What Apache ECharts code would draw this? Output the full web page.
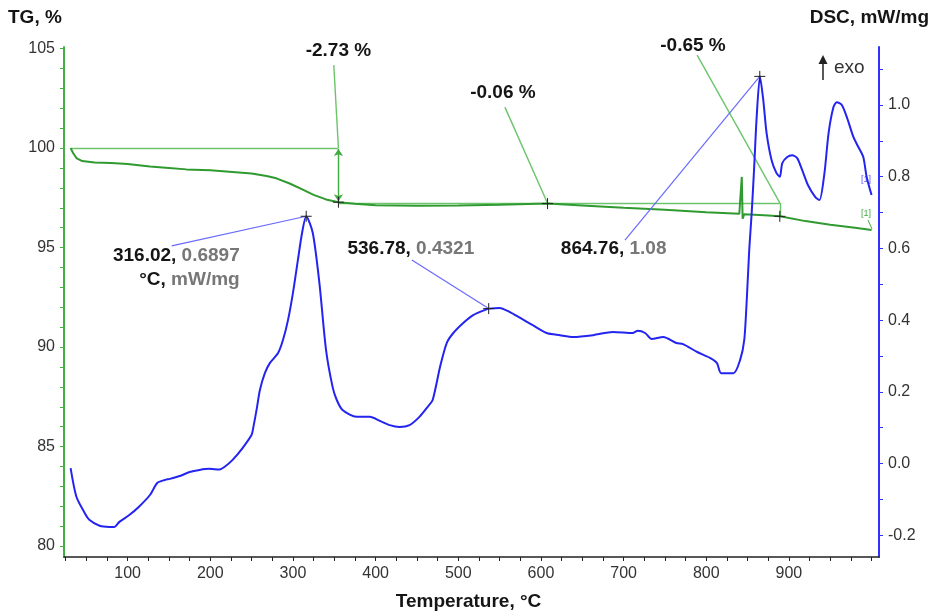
<!DOCTYPE html>
<html><head><meta charset="utf-8">
<script src="https://cdn.jsdelivr.net/npm/echarts@6/dist/echarts.min.js"></script>
<style>html,body{margin:0;padding:0;background:#fff}#c{width:937px;height:616px}</style>
</head><body><div id="c"></div>
<script>
// ---- data ----
const temperatureTG = [31,34,38,45,60,80,100,127,150,171,200,227,250,268,280,296,310,325,340,355,375,400,450,500,550,608,650,700,750,800,840,842,843,844,846,870,889,920,950,980,1000];
const tgValues      = [100,99.75,99.5,99.35,99.28,99.25,99.2,99.07,99.0,98.93,98.88,98.8,98.72,98.6,98.48,98.22,97.95,97.65,97.42,97.28,97.2,97.13,97.1,97.12,97.15,97.21,97.12,97.0,96.9,96.78,96.7,96.7,98.55,96.45,96.68,96.62,96.57,96.33,96.15,96.0,95.88];

const temperatureDSC = [31,38,48,54,66,78,84,90,102,114,127,136,145,151,163,175,187,199,211,217,227,239,250,252,256,260,266,272,282,288,294,300,306,311,316,324,332,340,348,353,360,377,393,405,417,429,441,453,463,469,478,486,494,506,518,534,537,550,562,575,590,607,623,639,663,687,711,717,726,734,748,764,772,789,805,813,818,833,841,846,849,852,855,858,861,865,869,873,879,885,889,892,898,904,910,916,923,932,937,943,948,954,958,964,970,978,984,990,994,1000];
const dscValues      = [-0.013,-0.093,-0.138,-0.158,-0.174,-0.177,-0.177,-0.163,-0.144,-0.12,-0.088,-0.054,-0.046,-0.043,-0.035,-0.024,-0.018,-0.015,-0.017,-0.01,0.01,0.043,0.08,0.1,0.15,0.205,0.252,0.28,0.308,0.345,0.40,0.476,0.568,0.643,0.69,0.643,0.503,0.317,0.213,0.177,0.149,0.13,0.13,0.119,0.107,0.102,0.107,0.13,0.158,0.177,0.27,0.336,0.364,0.392,0.414,0.43,0.432,0.434,0.423,0.406,0.386,0.364,0.358,0.353,0.358,0.367,0.364,0.37,0.364,0.347,0.353,0.336,0.333,0.311,0.294,0.28,0.252,0.252,0.289,0.345,0.456,0.596,0.70,0.827,0.967,1.08,1.014,0.922,0.847,0.81,0.80,0.838,0.855,0.86,0.852,0.819,0.777,0.743,0.735,0.81,0.922,0.995,1.008,1.0,0.967,0.911,0.883,0.855,0.80,0.749];

const xTickLabels   = [100,200,300,400,500,600,700,800,900];
const xMinorTicks   = [25,50,75,100,125,150,175,200,225,250,275,300,325,350,375,400,425,450,475,500,525,550,575,600,625,650,675,700,725,750,775,800,825,850,875,900,925,950,975,1000];
const tgTickLabels  = [80,85,90,95,100,105];
const tgMinorTicks  = [80,81,82,83,84,85,86,87,88,89,90,91,92,93,94,95,96,97,98,99,100,101,102,103,104,105];
const dscTickLabels = [-0.2,0.0,0.2,0.4,0.6,0.8,1.0];
const dscMinorTicks = [-0.2,-0.1,0.0,0.1,0.2,0.3,0.4,0.5,0.6,0.7,0.8,0.9,1.0,1.1];

// TG mass-loss steps
const tgStepStartT = 31, tgStepStartV = 100;
const tgStepT  = [355, 608, 889];
const tgStepV  = [97.28, 97.21, 96.57];
const tgStepLabels = ['-2.73 %', '-0.06 %', '-0.65 %'];
const tgPlateau = 97.25;
// DSC peaks
const dscPeakT = [316.02, 536.78, 864.76];
const dscPeakV = [0.6897, 0.4321, 1.08];

// ---- annotation placement (data coordinates) ----
const tgLabelPos   = [[355, 104.87], [554, 102.76], [784, 105.13]];
const tgLeaderFrom = [[349.4, 104.17], [556.4, 102.06], [789, 104.67]];
const tgLeaderTo   = [[355, 100], [608, 97.23], [889, 97.25]];
const dscLabelPos   = [[235.6, 0.545], [442.6, 0.598], [688, 0.598]];
const dscLeaderFrom = [[153.3, 0.607], [443.8, 0.568], [701.7, 0.623]];

const FONT = 'Liberation Sans, Arial, Helvetica, sans-serif';
const GREEN = '#2f9a2f', LGREEN = '#6cc46c', BLUE = '#2424f0', LBLUE = '#6a6aff';

const zip = (a, b) => a.map((v, i) => [v, b[i]]);

const chart = echarts.init(document.getElementById('c'), null, {renderer: 'canvas'});

const rich = {
  k: {color: '#151515', fontWeight: 'bold', fontSize: 19, fontFamily: FONT, align: 'right', lineHeight: 24},
  g: {color: '#777777', fontWeight: 'bold', fontSize: 19, fontFamily: FONT, align: 'right', lineHeight: 24}
};
const dscLabelTexts = [
  '{k|' + dscPeakT[0].toFixed(2) + ', }{g|' + dscPeakV[0].toFixed(4) + '}\n{k|°C, }{g|mW/mg}',
  '{k|' + dscPeakT[1].toFixed(2) + ', }{g|' + dscPeakV[1].toFixed(4) + '}',
  '{k|' + dscPeakT[2].toFixed(2) + ', }{g|' + dscPeakV[2].toFixed(2) + '}'
];

const plusSymbol = 'path://M0,6 L12,6 M6,0 L6,12';

const option = {
  animation: false,
  backgroundColor: '#fff',
  grid: {left: 64, right: 58, top: 47, bottom: 59, containLabel: false},
  xAxis: {
    type: 'value', min: 23, max: 1009,
    axisLine: {onZero: false, lineStyle: {color: '#222', width: 1.5}},
    axisTick: {show: true, customValues: xMinorTicks, length: 4, lineStyle: {color: '#222'}},
    axisLabel: {customValues: xTickLabels, color: '#333', fontSize: 16, fontFamily: FONT, margin: 9},
    splitLine: {show: false}
  },
  yAxis: [{
    type: 'value', min: 79.45, max: 105.08, position: 'left',
    axisLine: {show: true, onZero: false, lineStyle: {color: '#44b044', width: 2}},
    axisTick: {show: true, customValues: tgMinorTicks, length: 4, lineStyle: {color: '#44b044'}},
    axisLabel: {customValues: tgTickLabels, color: '#333', fontSize: 16, fontFamily: FONT, margin: 9},
    splitLine: {show: false}
  }, {
    type: 'value', min: -0.261, max: 1.162, position: 'right',
    axisLine: {show: true, onZero: false, lineStyle: {color: '#3030ff', width: 2}},
    axisTick: {show: true, customValues: dscMinorTicks, length: 4, lineStyle: {color: '#3030ff'}},
    axisLabel: {customValues: dscTickLabels, color: '#333', fontSize: 16, fontFamily: FONT, margin: 9,
      formatter: v => v.toFixed(1)},
    splitLine: {show: false}
  }],
  series: [
    // annotation lines for TG steps
    {
      type: 'lines', coordinateSystem: 'cartesian2d', xAxisIndex: 0, yAxisIndex: 0, z: 2, clip: false,
      lineStyle: {color: LGREEN, width: 1.4, opacity: 1},
      data: [
        {coords: [[tgStepStartT, tgStepStartV], [tgStepT[0], tgStepStartV]]},
        {coords: [[tgStepT[0], tgPlateau], [tgStepT[2], tgPlateau]]},
        {coords: [[tgStepT[2], tgPlateau], [tgStepT[2], tgStepV[2]]]},
        {coords: [tgLeaderFrom[0], tgLeaderTo[0]]},
        {coords: [tgLeaderFrom[1], tgLeaderTo[1]]},
        {coords: [tgLeaderFrom[2], tgLeaderTo[2]]}
      ]
    },
    {
      type: 'lines', coordinateSystem: 'cartesian2d', xAxisIndex: 0, yAxisIndex: 0, z: 2,
      symbol: ['arrow', 'arrow'], symbolSize: 7,
      lineStyle: {color: '#3faa3f', width: 1.4, opacity: 1},
      data: [{coords: [[tgStepT[0], tgStepStartV - 0.05], [tgStepT[0], tgStepV[0] + 0.05]]}]
    },
    {
      name: 'TG', type: 'line', xAxisIndex: 0, yAxisIndex: 0, z: 3,
      data: zip(temperatureTG, tgValues), showSymbol: false, smooth: false,
      lineStyle: {color: GREEN, width: 2}
    },
    {
      name: 'DSC', type: 'line', xAxisIndex: 0, yAxisIndex: 1, z: 4,
      data: zip(temperatureDSC, dscValues), showSymbol: false, smooth: 0.25,
      lineStyle: {color: BLUE, width: 2}
    },
    // DSC leader lines
    {
      type: 'lines', coordinateSystem: 'cartesian2d', xAxisIndex: 0, yAxisIndex: 1, z: 5,
      lineStyle: {color: LBLUE, width: 1.2, opacity: 1},
      data: dscLeaderFrom.map((p, i) => ({coords: [p, [dscPeakT[i], dscPeakV[i]]]}))
    },
    // markers
    {
      type: 'scatter', xAxisIndex: 0, yAxisIndex: 0, z: 6, symbol: plusSymbol, symbolSize: 11,
      itemStyle: {color: 'transparent', borderColor: '#222', borderWidth: 1, opacity: 1},
      data: zip(tgStepT, tgStepV)
    },
    {
      type: 'scatter', xAxisIndex: 0, yAxisIndex: 1, z: 6, symbol: plusSymbol, symbolSize: 11,
      itemStyle: {color: 'transparent', borderColor: '#222', borderWidth: 1, opacity: 1},
      data: zip(dscPeakT, dscPeakV)
    },
    // TG step labels
    {
      type: 'scatter', xAxisIndex: 0, yAxisIndex: 0, z: 7, symbolSize: 1, clip: false,
      itemStyle: {color: 'transparent', opacity: 1},
      data: tgLabelPos.map((p, i) => ({value: p, label: {formatter: tgStepLabels[i]}})),
      label: {show: true, position: 'inside', color: '#151515', opacity: 1, textBorderWidth: 0, fontWeight: 'bold', fontSize: 19, fontFamily: FONT}
    },
    // DSC peak labels
    {
      type: 'scatter', xAxisIndex: 0, yAxisIndex: 1, z: 7, symbolSize: 1, clip: false,
      itemStyle: {color: 'transparent', opacity: 1},
      data: [
        {value: dscLabelPos[0], label: {formatter: dscLabelTexts[0], align: 'right', verticalAlign: 'middle', rich: rich}},
        {value: dscLabelPos[1], label: {formatter: dscLabelTexts[1], align: 'center', verticalAlign: 'middle', rich: rich}},
        {value: dscLabelPos[2], label: {formatter: dscLabelTexts[2], align: 'center', verticalAlign: 'middle', rich: rich}}
      ],
      label: {show: true, position: 'inside', opacity: 1, textBorderWidth: 0}
    }
  ],
  graphic: [
    {type: 'text', left: 8, top: 8, style: {text: 'TG, %', font: 'bold 19px ' + FONT, fill: '#151515'}},
    {type: 'text', right: 8, top: 8, style: {text: 'DSC, mW/mg', font: 'bold 19px ' + FONT, fill: '#151515'}},
    {type: 'text', left: 'center', top: 592, style: {text: 'Temperature, °C', font: 'bold 19px ' + FONT, fill: '#151515'}},
    {type: 'line', shape: {x1: 823, y1: 62, x2: 823, y2: 80}, style: {stroke: '#222', lineWidth: 1.5}},
    {type: 'polygon', shape: {points: [[818.5, 64], [827.5, 64], [823, 55]]}, style: {fill: '#222'}},
    {type: 'text', x: 834, y: 58, style: {text: 'exo', font: '19px ' + FONT, fill: '#333'}},
    {type: 'text', x: 861, y: 175, style: {text: '[1]', font: '9px ' + FONT, fill: '#5a5aff'}},
    {type: 'text', x: 861, y: 209, style: {text: '[1]', font: '9px ' + FONT, fill: '#44aa44'}},
    {type: 'line', shape: {x1: 868, y1: 220, x2: 872, y2: 229}, style: {stroke: '#44aa44', lineWidth: 1}}
  ]
};
chart.setOption(option);
</script></body></html>
